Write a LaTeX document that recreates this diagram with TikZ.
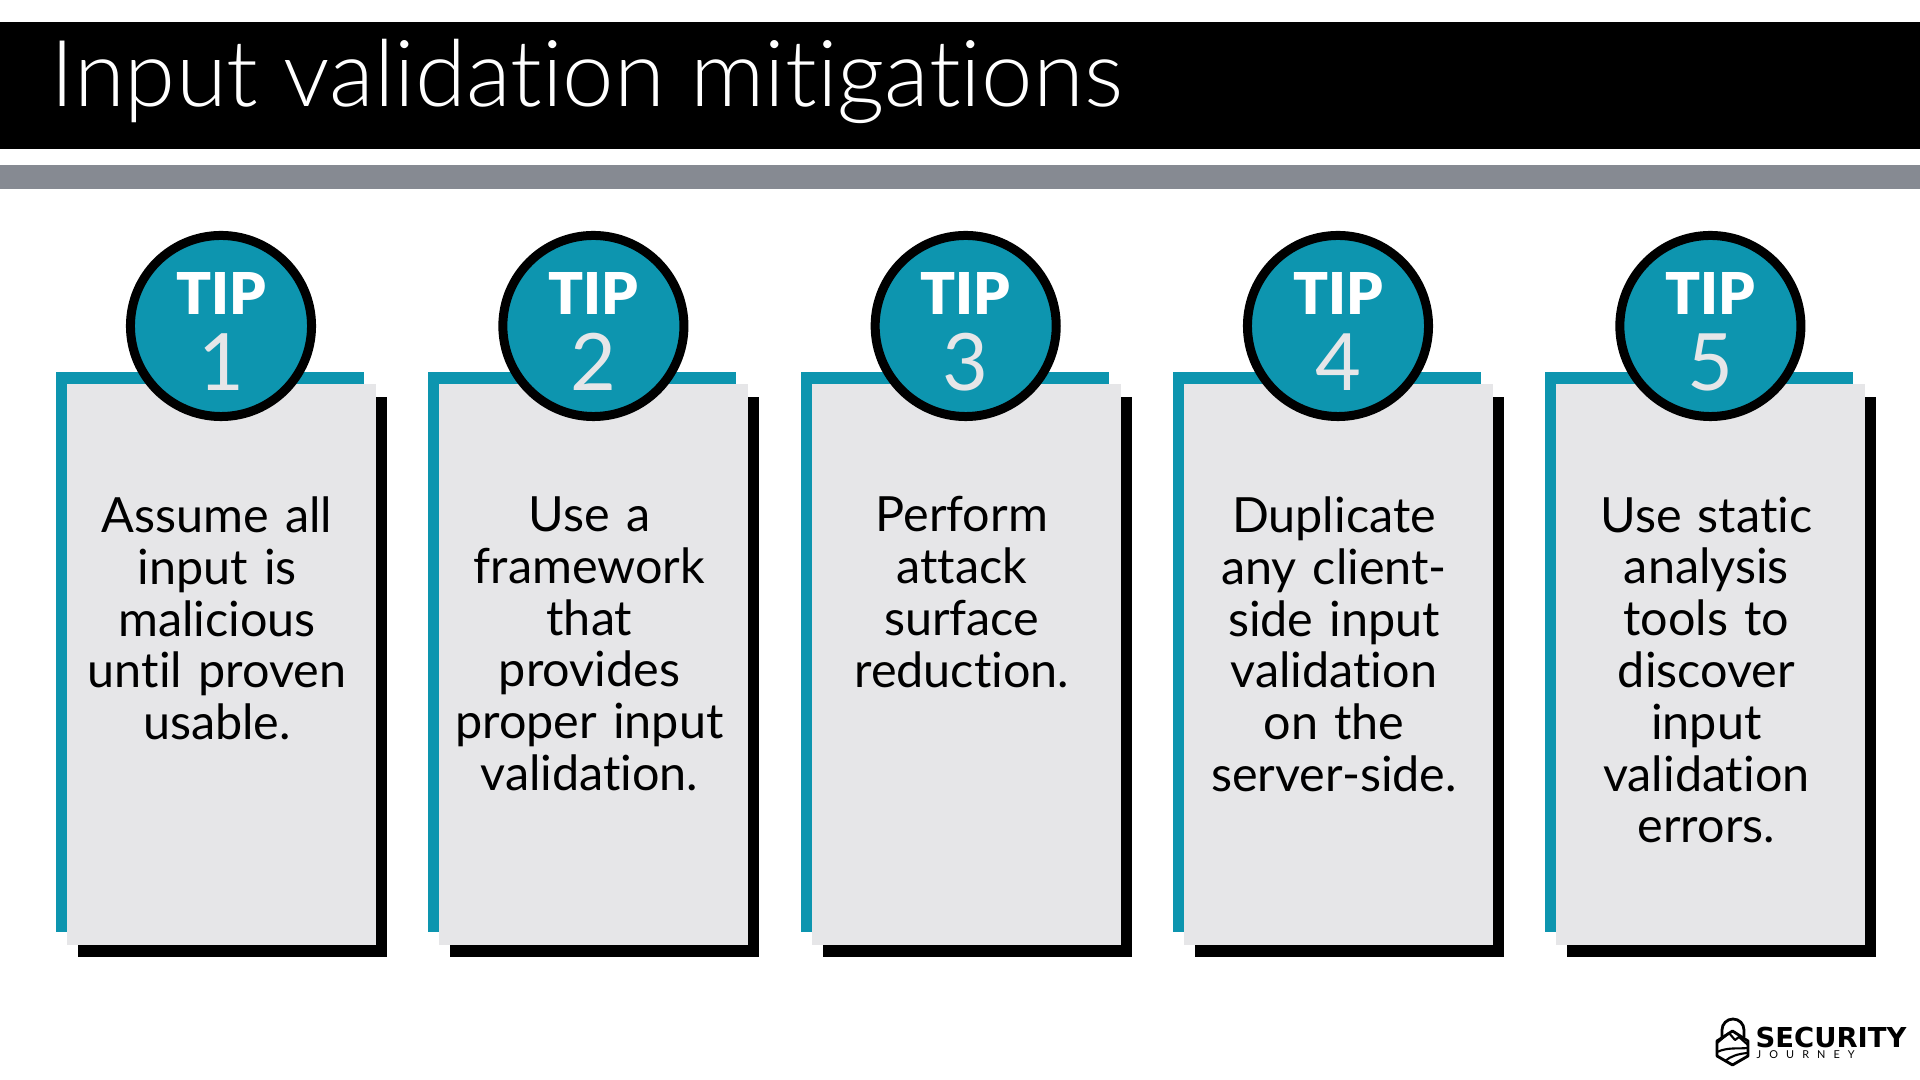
\documentclass[tikz,border=0pt]{standalone}
\usepackage{fontspec}
\setmainfont{Lato}[Ligatures=NoCommon]
\newfontfamily\titlefont{Lato Light}[Ligatures=NoCommon]
\newfontfamily\tipfont{Lato Black}
\newfontfamily\logofont{DejaVu Sans Bold}
\usepackage{tikz}
\definecolor{tipteal}{HTML}{0D95AF}
\definecolor{cardgray}{HTML}{E6E6E8}
\definecolor{bandgray}{HTML}{868A92}
\tikzset{
    tipcircle/.style={circle, draw=black, fill=tipteal, line width=2.56pt, minimum size=181*0.2845pt, inner sep=0pt},
    tipword/.style={white, font=\tipfont\fontsize{16.4}{16.4}\selectfont},
    tipnum/.style={cardgray, font=\fontsize{22.5}{22.5}\selectfont},
    tiptext/.style={text width=290*0.2845pt, align=center, anchor=north, inner sep=0pt, font=\fontsize{13.8}{14.73}\selectfont},
    logoline/.style={line width=0.8pt, line join=round}
}

\begin{document}
\begin{tikzpicture}[x=0.01cm, y=-0.01cm]
    \useasboundingbox (0,0) rectangle (1920,1080);
    % Draw title bands
    \fill[black] (0,22) rectangle (1920,149);
    \fill[bandgray] (0,165) rectangle (1920,189);
    \node[white, anchor=base west, inner sep=0pt, font=\titlefont\fontsize{26.3}{26.3}\selectfont] (title) at (50,107) {Input validation mitigations};
    % Draw the five tips
    \foreach \n/\x/\body in {
        1/0/{Assume all\\input is\\malicious\\until proven\\usable.},
        2/372.4/{Use a\\framework\\that\\provides\\proper input\\validation.},
        3/744.7/{Perform\\attack\\surface\\reduction.},
        4/1117/{Duplicate\\any client-\\side input\\validation\\on the\\server-side.},
        5/1489.4/{Use static\\analysis\\tools to\\discover\\input\\validation\\errors.}} {
        \begin{scope}[xshift=\x*0.01cm]
            \fill[black] (78,397) rectangle (387,957);
            \fill[tipteal] (56,372) rectangle (364,932);
            \fill[cardgray] (67,384) rectangle (376,945);
            \node[tipcircle] (circle\n) at (221,326) {};
            \node[tipword] (word\n) at (221,294) {TIP};
            \node[tipnum] (num\n) at (221,362) {\n};
            \node[tiptext] (text\n) at (217,496) {\body};
        \end{scope}
    }
    % Draw logo
    \draw[logoline] (1722,1037) -- (1722,1030) arc (180:360:11) -- (1744,1037);
    \draw[logoline, fill=white] (1732.5,1031) -- (1748,1041) -- (1748,1056) -- (1732.5,1065) -- (1717,1056) -- (1717,1041) -- cycle;
    \draw[logoline, line width=0.6pt] (1717,1043) -- (1729,1033) -- (1735,1040) -- (1739,1037) -- (1748,1045);
    \draw[logoline, line width=0.6pt] (1717,1052) .. controls (1728,1047) and (1738,1049) .. (1748,1048);
    \draw[logoline, line width=0.6pt] (1725,1061) .. controls (1731,1056) and (1738,1054) .. (1747,1053);
    \node[anchor=base west, inner sep=0pt, font=\logofont\fontsize{7.8}{7.8}\selectfont] (logotop) at (1755,1048) {SECURITY};
    \node[anchor=base west, inner sep=0pt, font=\fontsize{3.1}{3.1}\selectfont, text width=98*0.2845pt] (logobottom) at (1756,1059) {J\hfill O\hfill U\hfill R\hfill N\hfill E\hfill Y};
\end{tikzpicture}
\end{document}
